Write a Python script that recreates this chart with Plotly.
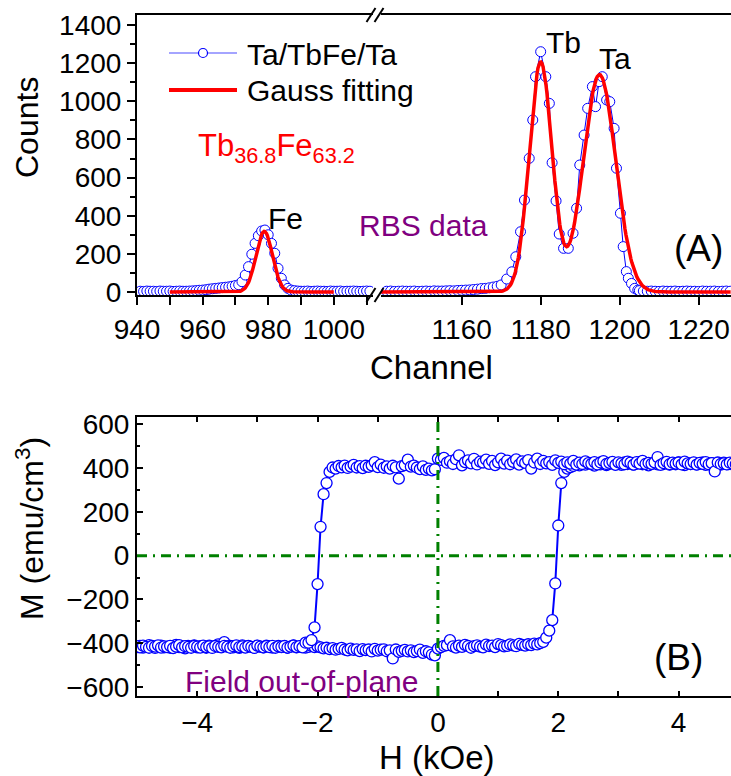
import numpy as np
import plotly.graph_objects as go

# ---------------- Panel A: RBS spectrum ----------------
# Fe region (left segment of the broken channel axis)
FE_CHANNEL = list(range(941, 1012))
FE_COUNTS = [
    4, 3, 5, 4, 4, 3, 5, 4, 4, 5, 3, 4, 5, 4, 4, 5, 6, 7,          # 941-958
    9, 10, 12, 15, 17, 19, 21, 23, 25, 27, 30, 34, 38,              # 959-971
    54, 89, 133, 198, 255, 295, 320, 325, 300, 255, 203, 124, 72,   # 972-984
    37, 19, 10, 7,                                                  # 985-988
    5, 4, 4, 5, 3, 4, 5, 4, 4, 3, 5, 4, 4, 5, 3, 4, 4, 5, 4, 3, 4, 5, 4,  # 989-1011
]

# Tb / Ta region (right segment)
TB_BASE_CH = list(range(1141, 1171))
TB_BASE_CT = [4, 5, 3, 4, 5, 4, 4, 5, 3, 4, 5, 4, 6, 5, 5, 6, 7, 6, 8, 9,
              10, 11, 13, 15, 18, 19, 22, 26, 30, 37]
TB_PEAK_CH = [1171.4, 1172.7, 1173.7, 1174.9, 1175.9, 1177.1, 1178.0, 1178.7,
              1180.0, 1181.3, 1182.2, 1182.9, 1183.9, 1184.7, 1185.8, 1187.0,
              1188.2, 1189.1, 1189.9, 1191.0, 1191.9, 1193.1, 1193.9, 1194.8,
              1195.6, 1196.7, 1197.5, 1198.6, 1199.2, 1200.2, 1200.9, 1201.7,
              1202.2, 1203.0, 1203.8, 1204.6]
TB_PEAK_CT = [68, 106, 185, 316, 482, 701, 902, 1129,
              1260, 1129, 989, 678, 478, 304, 229, 229,
              308, 439, 666, 823, 963, 1077, 972, 1103,
              1129, 1007, 998, 858, 649, 413, 238, 107,
              72, 45, 19, 10]
TA_TAIL_CH = list(range(1205, 1229))
TA_TAIL_CT = [7, 5, 4, 5, 4, 3, 5, 4, 4, 5, 3, 4, 5, 4, 4, 3, 5, 4, 4, 5, 3, 4, 5, 4]

# Gaussian fit components: (centre channel, height, sigma)
FIT_FE = [(978.8, 318, 2.5)]
FIT_TBTA = [(1180.0, 1205, 2.9), (1194.9, 1140, 4.1)]
FIT_FE_SPAN = (950, 1000)
FIT_TBTA_SPAN = (1139.6, 1228.2)

# ---------------- Panel B: M-H hysteresis loop ----------------
H_FIELD = np.round(np.arange(-5.0, 5.0001, 0.05), 2)   # field sweep grid (kOe)

# field sweeping up (-5 -> +5 kOe)
M_SWEEP_UP = [
    -418, -412, -420, -415, -409, -417, -422, -414, -411, -419,
    -416, -421, -413, -408, -418, -415, -424, -412, -417, -410,
    -419, -414, -416, -421, -411, -418, -413, -406, -417, -395,
    -415, -412, -419, -416, -422, -410, -418, -414, -417, -421,
    -413, -416, -419, -411, -415, -420, -417, -412, -418, -414,
    -421, -416, -410, -419, -415, -413, -420, -417, -412, -418,
    -415,
    -419, -424, -421, -427, -423, -430, -426, -422, -429, -433,
    -425, -431, -428, -436, -427, -432, -429, -438, -426, -434,
    -430, -428, -437, -433, -470, -429, -440, -435, -431, -438,
    -433, -441, -436, -430, -444, -437, -442, -452, -456,
    -425,
    -418, -412, -409, -386, -415, -420, -411, -417, -408, -413,
    -421, -414, -410, -416, -419, -407, -413, -411, -418, -404,
    -409, -415, -412, -406, -410, -414, -403, -408, -411, -405,
    -409, -402, -406, -400,
    -394, -375, -343, -295, -127, 138, 332, 383, 398, 405,
    410, 418, 413, 421, 416, 424, 419, 412, 423, 417,
    426, 414, 420, 425, 418, 422, 415, 427, 419, 423,
    416, 421, 428, 418, 424, 413, 420, 426, 417, 422,
    419, 425, 416, 421, 418, 427, 420, 414, 423, 419,
    424, 417, 421, 426, 415, 420, 423, 418, 422, 416,
    425, 419, 421, 417, 424, 420,
]

# field sweeping down (+5 -> -5 kOe), listed in order of increasing field
M_SWEEP_DOWN = [
    -414, -419, -411, -417, -421, -413, -416, -410, -420, -415,
    -418, -412, -423, -416, -409, -419, -414, -417, -421, -413,
    -416, -420, -411, -418, -415, -422, -413, -417, -419, -412,
    -416, -421, -414, -410, -418, -415, -420, -413, -417, -422,
    -411, -416, -419, -414, -418, -412, -421, -415, -417, -413,
    -420, -416, -411, -418, -414, -419, -398,
    -398, -386, -328, -130, 132, 281, 332, 383, 403,
    398, 410, 404, 412, 401, 407, 415, 403, 409, 400,
    411, 406, 413, 428, 405, 416, 402, 408, 398, 411,
    404, 352, 409, 414, 439, 407, 412, 403, 396, 408,
    392, 398, 390, 395,
    444,
    438, 447, 425, 432, 419, 441, 459, 413, 428, 436,
    422, 443, 417, 430, 426, 439, 420, 433, 414, 427,
    444, 421, 435, 418, 429, 440, 416, 431, 424, 437,
    398, 426, 444, 419, 433, 422, 428, 415, 436, 424,
    430, 418, 427, 421, 433, 416, 425, 419, 431, 423,
    420, 428, 417, 426, 432, 419, 424, 429, 415, 427,
    422, 418, 430, 425, 416, 428, 421, 433, 419, 424,
    420, 427, 451, 415, 423, 429, 418, 425, 421, 426,
    417, 430, 422, 419, 427, 416, 424, 420, 428, 418,
    423, 385, 426, 419, 422, 417, 425, 421, 418, 424,
]

# ---------------- styling ----------------
W, H = 731, 776
ML, MR, MT, MB = 137, 0, 15, 80
FONT = "Liberation Sans, Arial, sans-serif"
BLUE = "#0000ff"
RED = "#ff0000"
PURPLE = "#800080"
GREEN = "#008000"


def px(x):
    """pixel column -> paper x"""
    return (x - ML) / (W - ML - MR)


def py(y):
    """pixel row -> paper y"""
    return (H - MB - y) / (H - MT - MB)


def gauss_sum(x, comps):
    x = np.asarray(x, dtype=float)
    out = np.zeros_like(x)
    for c, a, s in comps:
        out += a * np.exp(-((x - c) ** 2) / (2 * s * s))
    return out


fig = go.Figure()

mk_a = dict(symbol="circle", size=10, color="white", line=dict(color=BLUE, width=1))
tb_ch = TB_BASE_CH + TB_PEAK_CH + TA_TAIL_CH
tb_ct = TB_BASE_CT + TB_PEAK_CT + TA_TAIL_CT

fig.add_trace(go.Scatter(x=FE_CHANNEL, y=FE_COUNTS, xaxis="x", yaxis="y",
                         mode="lines+markers", line=dict(color=BLUE, width=1),
                         marker=mk_a, name="Ta/TbFe/Ta", showlegend=False))
fig.add_trace(go.Scatter(x=tb_ch, y=tb_ct, xaxis="x2", yaxis="y",
                         mode="lines+markers", line=dict(color=BLUE, width=1),
                         marker=mk_a, name="Ta/TbFe/Ta", showlegend=False))

fx1 = np.arange(FIT_FE_SPAN[0], FIT_FE_SPAN[1] + 0.001, 0.25)
fx2 = np.arange(FIT_TBTA_SPAN[0], FIT_TBTA_SPAN[1] + 0.001, 0.25)
fig.add_trace(go.Scatter(x=fx1, y=gauss_sum(fx1, FIT_FE), xaxis="x", yaxis="y",
                         mode="lines", line=dict(color=RED, width=3.5),
                         name="Gauss fitting", showlegend=False))
fig.add_trace(go.Scatter(x=fx2, y=gauss_sum(fx2, FIT_TBTA), xaxis="x2", yaxis="y",
                         mode="lines", line=dict(color=RED, width=3.5),
                         name="Gauss fitting", showlegend=False))

mk_b = dict(symbol="circle", size=11, color="white", line=dict(color=BLUE, width=1.3))
fig.add_trace(go.Scatter(x=H_FIELD, y=M_SWEEP_UP, xaxis="x3", yaxis="y2",
                         mode="lines+markers", line=dict(color=BLUE, width=2),
                         marker=mk_b, showlegend=False))
fig.add_trace(go.Scatter(x=H_FIELD, y=M_SWEEP_DOWN, xaxis="x3", yaxis="y2",
                         mode="lines+markers", line=dict(color=BLUE, width=2),
                         marker=mk_b, showlegend=False))

tickfont = dict(family=FONT, size=28, color="black")
common = dict(showgrid=False, zeroline=False, showline=True, linecolor="black",
              linewidth=2, tickcolor="black", tickwidth=2, tickfont=tickfont)

fig.update_layout(
    width=W, height=H,
    margin=dict(l=ML, r=MR, t=MT, b=MB),
    paper_bgcolor="white", plot_bgcolor="white",
    showlegend=False,
    xaxis=dict(domain=[0, px(373)], anchor="y", range=[940, 1011.95],
               tickvals=[940, 960, 980, 1000],
               ticks="outside", ticklen=8, mirror=True,
               minor=dict(tickvals=[950, 970, 990, 1010], ticks="outside",
                          ticklen=8, tickwidth=2, tickcolor="black"),
               **common),
    xaxis2=dict(domain=[px(381), 1], anchor="y", range=[1139.57, 1228.2],
                tickvals=[1160, 1180, 1200, 1220],
                ticks="outside", ticklen=8, mirror=True, **common),
    yaxis=dict(domain=[py(295), py(15)], anchor="x", range=[-15.7, 1452.5],
               tickvals=list(range(0, 1401, 200)),
               ticks="outside", ticklen=8,
               minor=dict(tickvals=list(range(100, 1401, 200)), ticks="outside",
                          ticklen=5, tickwidth=2, tickcolor="black"),
               **common),
    xaxis3=dict(domain=[0, 1], anchor="y2", range=[-5.0, 4.87],
                tickvals=[-4, -2, 0, 2, 4],
                ticks="inside", ticklen=5, mirror="ticks",
                minor=dict(tickvals=[-3, -1, 1, 3], ticks="inside",
                           ticklen=5, tickwidth=2, tickcolor="black"),
                **common),
    yaxis2=dict(domain=[0, py(417)], anchor="x3", range=[-641.6, 634],
                tickvals=list(range(-600, 601, 200)),
                ticks="inside", ticklen=6,
                minor=dict(tickvals=list(range(-500, 601, 200)), ticks="inside",
                           ticklen=3, tickwidth=2, tickcolor="black"),
                **common),
)

# ---------------- shapes: axis breaks, reference lines, key ----------------
shapes = []
for yc in (15, 295):
    for xc in (371, 379):
        shapes.append(dict(type="line", xref="paper", yref="paper",
                           x0=px(xc - 4.5), y0=py(yc + 7), x1=px(xc + 4.5), y1=py(yc - 7),
                           line=dict(color="black", width=2)))

dash = "10px,6px,2px,6px"
shapes.append(dict(type="line", xref="x3", yref="y2 domain", x0=0, x1=0, y0=0, y1=1,
                   line=dict(color=GREEN, width=3, dash=dash), layer="above"))
shapes.append(dict(type="line", xref="x3 domain", yref="y2", x0=0, x1=1, y0=0, y1=0,
                   line=dict(color=GREEN, width=3, dash=dash), layer="above"))

# key for panel A
shapes.append(dict(type="line", xref="paper", yref="paper",
                   x0=px(169), x1=px(237), y0=py(53), y1=py(53),
                   line=dict(color="#4a4aff", width=1.2)))
shapes.append(dict(type="circle", xref="paper", yref="paper",
                   x0=px(198.5), x1=px(207.5), y0=py(57.5), y1=py(48.5),
                   fillcolor="white", line=dict(color=BLUE, width=1.2)))
shapes.append(dict(type="line", xref="paper", yref="paper",
                   x0=px(169), x1=px(237), y0=py(90), y1=py(90),
                   line=dict(color=RED, width=4)))

fig.update_layout(shapes=shapes)


def label(text, x, y, size=30, color="black", xanchor="center", angle=0):
    return dict(text=text, x=px(x), y=py(y), xref="paper", yref="paper",
                xanchor=xanchor, yanchor="middle", showarrow=False,
                textangle=angle, font=dict(family=FONT, size=size, color=color))


annotations = [
    label("Ta/TbFe/Ta", 245, 54, xanchor="left"),
    label("Gauss fitting", 245, 91, xanchor="left"),
    label("Tb<sub>36.8</sub>Fe<sub>63.2</sub>", 196, 148, size=31, color=RED, xanchor="left"),
    label("Fe", 285, 218),
    label("RBS data", 357, 226, color=PURPLE, xanchor="left"),
    label("Tb", 563, 43),
    label("Ta", 615, 59),
    label("(A)", 698, 248, size=37),
    label("Counts", 27, 128, size=32, angle=-90),
    label("Channel", 431, 367, size=33),
    label("(B)", 678, 657, size=37),
    label("Field out-of-plane", 183, 681, color=PURPLE, xanchor="left"),
    label("M (emu/cm<sup>3</sup>)", 30, 528, size=32, angle=-90),
    label("H (kOe)", 437, 757, size=33),
]
fig.update_layout(annotations=annotations)

fig.write_html("out.html")
